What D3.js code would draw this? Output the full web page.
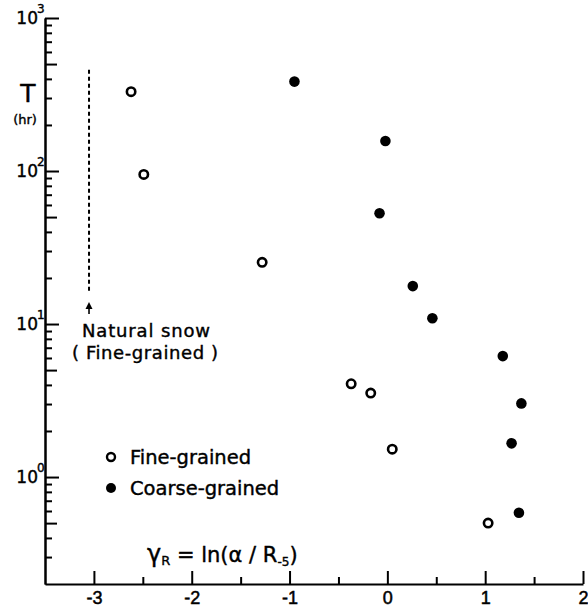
<!DOCTYPE html>
<html>
<head>
<meta charset="utf-8">
<script src="https://cdn.jsdelivr.net/npm/d3@7"></script>
<style>
  body { margin: 0; background: #fff; }
  svg { font-family: "DejaVu Sans", "Open Sans", sans-serif; }
  .axis path, .axis line { stroke: #000; stroke-width: 2px; }
  .axis text { font-size: 18px; fill: #000; stroke: #000; stroke-width: 0.5px; }
  .lbl { fill: #000; stroke: #000; stroke-width: 0.4px; }
</style>
</head>
<body>
<div id="chart"></div>
<script>
// Fine-grained (open circles)
var fineX = [-2.62, -2.49, -1.28, -0.37, -0.17, 0.05, 1.03];
var fineT = [330, 95, 25.3, 4.07, 3.54, 1.52, 0.50];
// Coarse-grained (filled circles)
var coarseX = [-0.95, -0.02, -0.08, 0.26, 0.46, 1.18, 1.37, 1.27, 1.345];
var coarseT = [384, 157, 53, 17.7, 10.9, 6.17, 3.03, 1.66, 0.585];
// natural snow range (dashed line)
var snowX = -3.05;
var snowT = [16.5, 460];

var xTicks = [-3, -2, -1, 0, 1, 2];
var xHalfTicks = [-2.5, -1.5, -0.5, 0.5, 1.5];
var yDecades = [0, 1, 2, 3];

var width = 588, height = 611;

var svg = d3.select("#chart").append("svg")
    .attr("width", width)
    .attr("height", height);

var x = d3.scaleLinear()
    .domain([-3.5, 2])
    .range([45, 583]);

var y = d3.scaleLog()
    .domain([0.2, 1000])
    .range([584, 18]);

// x axis, ticks pointing inward
svg.append("g")
    .attr("class", "axis")
    .attr("transform", "translate(0," + y(0.2) + ")")
    .call(d3.axisBottom(x).tickValues(xTicks).tickSizeInner(-13).tickSizeOuter(0)
        .tickPadding(7).tickFormat(function (d) { return d; }));

svg.append("g")
    .attr("class", "axis")
    .attr("transform", "translate(0," + y(0.2) + ")")
    .call(d3.axisBottom(x).tickValues(xHalfTicks).tickSizeInner(-7).tickSizeOuter(0).tickFormat(""))
    .select(".domain").remove();

// y axis
var majors = yDecades.map(function (d) { return Math.pow(10, d); });
var minors = [];
[-1, 0, 1, 2].forEach(function (k) {
    d3.range(2, 10).forEach(function (m) {
        var v = m * Math.pow(10, k);
        if (v > 0.2 && v < 1000) minors.push(v);
    });
});

svg.append("g")
    .attr("class", "axis")
    .attr("transform", "translate(" + x(-3.5) + ",0)")
    .call(d3.axisLeft(y).tickValues(majors).tickSizeInner(-14).tickSizeOuter(0).tickFormat(""));

svg.append("g")
    .attr("class", "axis")
    .attr("transform", "translate(" + x(-3.5) + ",0)")
    .call(d3.axisLeft(y).tickValues(minors).tickSizeOuter(0).tickFormat("")
        .tickSizeInner(-7))
    .selectAll(".tick line")
    .attr("x2", function (d) { return Math.round(d / Math.pow(10, Math.floor(Math.log10(d) + 1e-9))) === 5 ? 12 : 7; });

// y tick labels 10^n
var yLab = svg.append("g").attr("class", "lbl");
yDecades.forEach(function (d) {
    yLab.append("text")
        .attr("x", 38)
        .attr("y", y(Math.pow(10, d)) + 6)
        .attr("text-anchor", "end")
        .attr("font-size", 17)
        .text("10");
    yLab.append("text")
        .attr("x", 37)
        .attr("y", y(Math.pow(10, d)) - 5)
        .attr("font-size", 12)
        .text(d);
});

// y axis title
svg.append("text")
    .attr("class", "lbl")
    .attr("x", 28).attr("y", 102)
    .attr("text-anchor", "middle")
    .attr("font-size", 25)
    .text("T");
svg.append("text")
    .attr("class", "lbl")
    .attr("x", 25).attr("y", 124)
    .attr("text-anchor", "middle")
    .attr("font-size", 13)
    .text("(hr)");

// natural snow dashed range
svg.append("line")
    .attr("x1", x(snowX)).attr("x2", x(snowX))
    .attr("y1", y(snowT[0])).attr("y2", y(snowT[1]))
    .attr("stroke", "#000")
    .attr("stroke-width", 2)
    .attr("stroke-dasharray", "4,3");

svg.append("line")
    .attr("x1", x(snowX)).attr("x2", x(snowX))
    .attr("y1", 306).attr("y2", 314)
    .attr("stroke", "#000").attr("stroke-width", 1.6);
svg.append("path")
    .attr("d", "M" + x(snowX) + ",302 l-3.5,7 l7,0 z")
    .attr("fill", "#000");

svg.append("text")
    .attr("class", "lbl")
    .attr("x", 82).attr("y", 337)
    .attr("font-size", 18)
    .attr("textLength", 128)
    .text("Natural snow");
svg.append("text")
    .attr("class", "lbl")
    .attr("x", 72).attr("y", 359)
    .attr("font-size", 18)
    .attr("textLength", 146)
    .text("( Fine-grained )");

// points
svg.selectAll(".fine")
    .data(fineX)
    .enter().append("circle")
    .attr("class", "fine")
    .attr("cx", function (d) { return x(d); })
    .attr("cy", function (d, i) { return y(fineT[i]); })
    .attr("r", 4.2)
    .attr("fill", "#fff")
    .attr("stroke", "#000")
    .attr("stroke-width", 2.6);

svg.selectAll(".coarse")
    .data(coarseX)
    .enter().append("circle")
    .attr("class", "coarse")
    .attr("cx", function (d) { return x(d); })
    .attr("cy", function (d, i) { return y(coarseT[i]); })
    .attr("r", 5.3)
    .attr("fill", "#000");

// legend
var legend = svg.append("g").attr("class", "lbl").attr("font-size", 19.5);
legend.append("circle").attr("cx", 111).attr("cy", 457).attr("r", 4)
    .attr("fill", "#fff").attr("stroke", "#000").attr("stroke-width", 2.4);
legend.append("text").attr("x", 130).attr("y", 464).text("Fine-grained");
legend.append("circle").attr("cx", 111).attr("cy", 488).attr("r", 5)
    .attr("fill", "#000").attr("stroke", "none");
legend.append("text").attr("x", 130).attr("y", 495).text("Coarse-grained");

// formula
var f = svg.append("text")
    .attr("class", "lbl")
    .attr("x", 147).attr("y", 562)
    .attr("font-size", 21);
f.append("tspan").attr("font-size", 24).text("\u03b3");
f.append("tspan").attr("font-size", 13).attr("dy", 3).text("R");
f.append("tspan").attr("dy", -3).text(" = ln(\u03b1 / R");
f.append("tspan").attr("font-size", 12).attr("dy", 4).text("-5");
f.append("tspan").attr("dy", -4).text(")");
</script>
</body>
</html>
